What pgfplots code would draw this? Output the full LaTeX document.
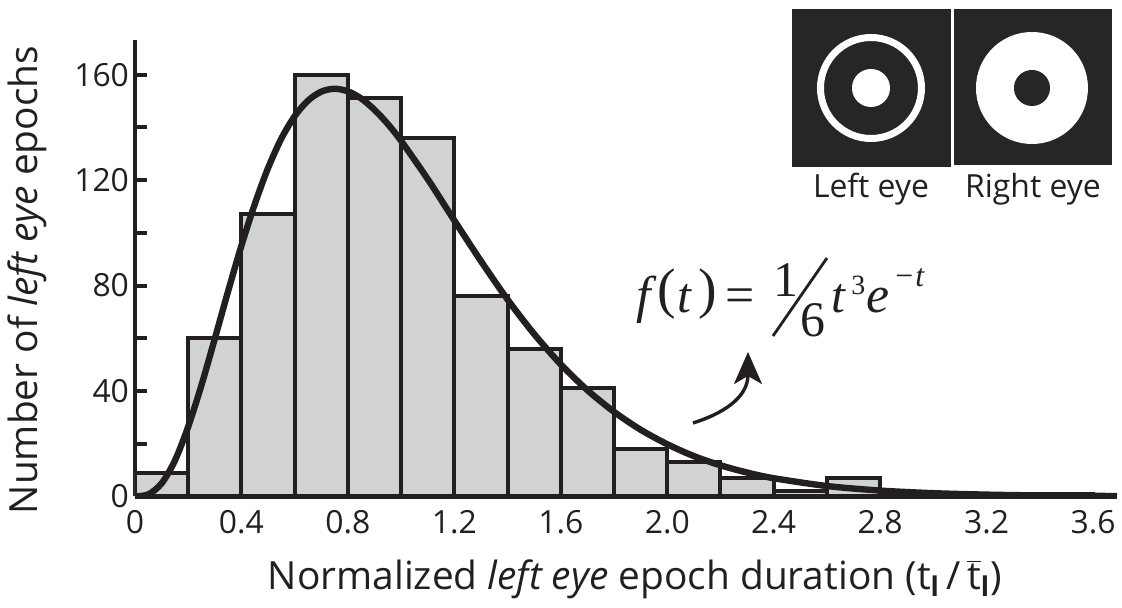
\documentclass[border=0pt]{standalone}
\usepackage{fontspec}
\setmainfont{Open Sans}
\newfontfamily\formulafont{Liberation Serif}
\usepackage{pgfplots}
\usepackage{pgfplotstable}
\pgfplotsset{compat=1.18}
\usetikzlibrary{arrows.meta}

\definecolor{ink}{HTML}{231F20}
\definecolor{barfill}{HTML}{D1D3D2}
\definecolor{panel}{HTML}{262626}

% histogram of normalized left-eye epoch durations (left bin edge, count)
\pgfplotstableread{
left count
0.0 9
0.2 60
0.4 107
0.6 160
0.8 151
1.0 136
1.2 76
1.4 56
1.6 41
1.8 18
2.0 13
2.2 7
2.4 2
2.6 7
2.8 0
3.0 1
3.2 0
3.4 1
3.6 1
}\histdata

% fitted gamma curve, scaled to the counts
\pgfplotstableread{
t f
0 0
0.05 0.75
0.1 4.94
0.15 13.6
0.2 26.5
0.25 42.3
0.3 59.9
0.35 77.9
0.4 95.2
0.45 110.9
0.5 124.6
0.55 135.8
0.6 144.3
0.65 150.2
0.7 153.6
0.75 154.7
0.8 153.7
0.85 151.0
0.9 146.7
0.95 141.3
1.0 134.9
1.1 120.4
1.2 104.7
1.3 89.3
1.4 74.7
1.5 61.6
1.6 50.1
1.7 40.3
1.8 32.1
1.9 25.3
2.0 19.8
2.1 15.3
2.2 11.8
2.3 9.05
2.4 6.90
2.6 3.94
2.8 2.21
3.0 1.22
3.2 0.67
3.4 0.36
3.69 0.14
}\fitdata

\begin{document}
\begin{tikzpicture}
\useasboundingbox (-67.5bp,-55.8bp) rectangle (493.5bp,248.2bp);
\begin{axis}[
  at={(0,0)}, anchor=south west,
  scale only axis, width=491bp, height=228.2bp,
  xmin=0, xmax=3.69, ymin=0, ymax=173.2,
  axis x line*=bottom, axis y line*=left,
  axis line style={line width=2.2bp, draw=ink},
  /pgf/number format/assume math mode=true,
  xtick={0,0.4,0.8,1.2,1.6,2.0,2.4,2.8,3.2,3.6},
  xticklabels={0,0.4,0.8,1.2,1.6,2.0,2.4,2.8,3.2,3.6},
  xtick style={draw=none},
  ytick={0,40,80,120,160},
  minor ytick={20,60,100,140},
  tick align=inside,
  major tick length=6bp, minor tick length=6bp,
  ytick style={line width=2bp, draw=ink},
  minor tick style={line width=2bp, draw=ink},
  tick label style={font=\fontsize{16}{18}\selectfont, text=ink},
  xticklabel style={yshift=-3.5bp},
  yticklabel style={xshift=0.5bp},
  xlabel={Normalized \textit{left eye} epoch duration (t\textsubscript{\textbf{l}}\,/\,$\overline{\mbox{t}}$\textsubscript{\textbf{l}})},
  ylabel={Number of \textit{left eye} epochs},
  xlabel style={at={(axis description cs:0.509,-0.205)}, anchor=base, font=\fontsize{19.5}{21}\selectfont, text=ink},
  ylabel style={at={(axis description cs:-0.0988,0.474)}, anchor=base, font=\fontsize{19.5}{21}\selectfont, text=ink},
]
\addplot[ybar interval, fill=barfill, draw=ink, line width=2bp] table[x=left, y=count] {\histdata};
\addplot[ink, line width=3.2bp, smooth, no markers] table[x=t, y=f] {\fitdata};
\end{axis}

\begin{scope}[shift={(-67.5bp,248.2bp)}, x=0.5bp, y=-0.5bp,
  every node/.style={inner sep=0, anchor=base west, text=ink}]
  % stimulus panels
  \fill[panel] (792,9) rectangle (951,167);
  \fill[panel] (954,9) rectangle (1112,165);
  \draw[white, line width=3.5bp] (871,88) circle[radius=25.25bp];
  \fill[white] (871,88) circle[radius=9.5bp];
  \fill[white] (1032,88) circle[radius=28bp];
  \fill[panel] (1032,88) circle[radius=9bp];
  \node[font=\fontsize{16}{18}\selectfont, anchor=base] at (871,198) {Left eye};
  \node[font=\fontsize{16}{18}\selectfont, anchor=base] at (1033,198) {Right eye};
  % fitted density  f(t) = 1/6 t^3 e^{-t}
  \begin{scope}[every node/.append style={font=\formulafont\fontsize{25}{25}\selectfont}]
    \node[font=\formulafont\itshape\fontsize{26}{26}\selectfont] at (636,313) {f};
    \node[font=\formulafont\fontsize{28}{28}\selectfont] at (657,308) {(};
    \node[font=\formulafont\itshape\fontsize{25}{25}\selectfont] at (677,313) {t};
    \node[font=\formulafont\fontsize{28}{28}\selectfont] at (698,308) {)};
    \node[font=\formulafont\fontsize{26}{26}\selectfont] at (725,313) {=};
    \node at (773,297) {1};
    \node at (800,337) {6};
    \node[font=\formulafont\itshape\fontsize{25}{25}\selectfont] at (831,313) {t};
    \node[font=\formulafont\fontsize{14}{14}\selectfont] at (851,295) {3};
    \node[font=\formulafont\itshape\fontsize{26}{26}\selectfont] at (866,313) {e};
    \node[font=\formulafont\fontsize{16}{16}\selectfont] at (895,287) {−\kern1bp{\itshape t}};
  \end{scope}
  \draw[ink, line width=1.4bp] (773,336) -- (827,258);
  \draw[ink, line width=1.7bp, -{Stealth[length=16bp, width=14bp, inset=4bp]}]
    (693,423) .. controls (722,414) and (748,398) .. (748,352);
\end{scope}
\end{tikzpicture}
\end{document}
